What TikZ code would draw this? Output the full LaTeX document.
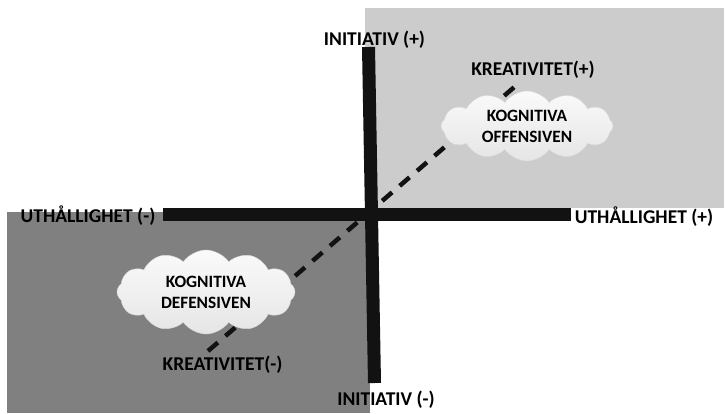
\documentclass[tikz,border=0pt]{standalone}
\usepackage{fontspec}
\setmainfont{Carlito}
\usetikzlibrary{positioning,shapes.symbols}

\begin{document}
\begin{tikzpicture}[x=1pt,y=-1pt,
  axis/.style={line width=13pt,draw=black!93},
  pole/.style={anchor=base,inner sep=0pt,font=\bfseries\fontsize{19.5}{21}\selectfont},
  idea/.style={cloud,cloud puffs=12,cloud puff arc=110,aspect=2.4,inner sep=0pt,
    draw=gray!30,top color=gray!4,bottom color=gray!20,align=center,
    font=\bfseries\fontsize{17.3}{21}\selectfont}
  ]

  \useasboundingbox (0,0) rectangle (725,413);
  \fill[gray!40] (365,8) rectangle (724,208);
  \fill[gray] (7,212) rectangle (370,413);

  \node[pole] (initplus) at (374.5,45) {INITIATIV (+)};
  \node[pole] (initminus) at (386,405) {INITIATIV (-)};
  \node[pole] (uthminus) at (88,222) {UTHÅLLIGHET (-)};
  \node[pole] (uthplus) at (644,223) {UTHÅLLIGHET (+)};
  \node[pole] (kreaplus) at (533,75) {KREATIVITET(+)};
  \node[pole] (kreaminus) at (222.5,370) {KREATIVITET(-)};

  \coordinate (kplus) at (519,83);
  \coordinate (kminus) at (208,351);
  \coordinate (vtop) at (368.5,47);
  \coordinate (vbot) at (374.5,383);
  \coordinate (hleft) at (163,214.5);
  \coordinate (hright) at (571,214.5);

  \draw[line width=4.5pt,draw=black!93,dash pattern=on 13pt off 10pt] (kminus) -- (kplus);
  \draw[axis] (vtop) -- (vbot);
  \draw[axis] (hleft) -- (hright);

  \node[idea,minimum width=172pt,minimum height=70pt] (offensiv) at (527,126)
    {KOGNITIVA\\OFFENSIVEN};
  \node[idea,minimum width=178pt,minimum height=84pt] (defensiv) at (206,292)
    {KOGNITIVA\\DEFENSIVEN};
\end{tikzpicture}
\end{document}
